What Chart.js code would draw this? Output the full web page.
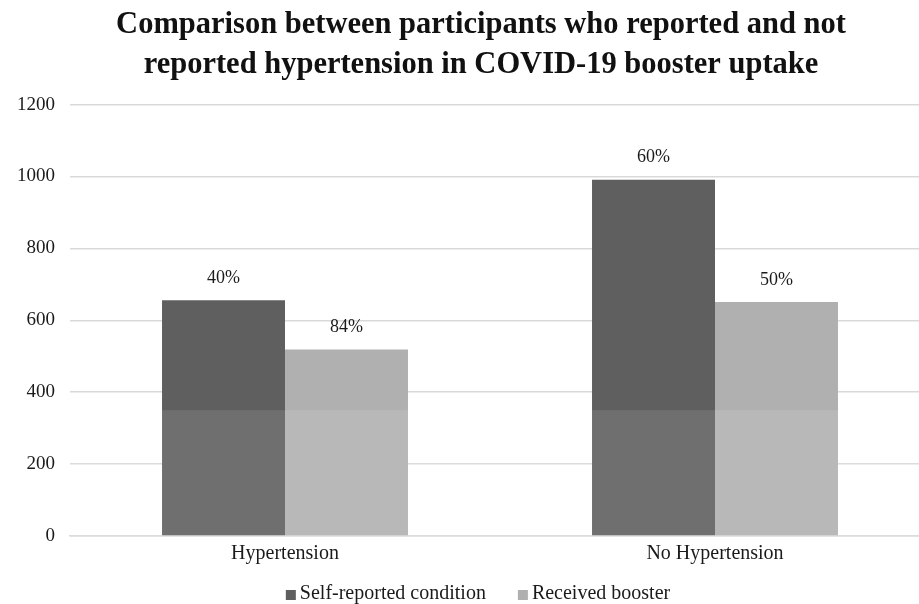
<!DOCTYPE html>
<html>
<head>
<meta charset="utf-8">
<script src="https://cdn.jsdelivr.net/npm/chart.js@4.4.1/dist/chart.umd.min.js"></script>
<style>
  html, body { margin: 0; padding: 0; background: #fff; overflow: hidden; }
  .chart-container { width: 930px; height: 604px; }
</style>
</head>
<body>
<div class="chart-container"><canvas id="myChart" width="930" height="604"></canvas></div>
<script>
"use strict";

// DATA
const categories = ["Hypertension", "No Hypertension"];
const selfReported = [656, 991];
const receivedBooster = [519, 651];
const selfReportedPct = ["40%", "60%"];
const receivedBoosterPct = ["84%", "50%"];
const yMin = 0;
const yMax = 1200;
const yStep = 200;
const titleLines = [
  "Comparison between participants who reported and not",
  "reported hypertension in COVID-19 booster uptake",
];

const FONT = "'Liberation Serif', 'DejaVu Serif', serif";
const TEXT = "#1a1a1a";
const ctx = document.getElementById("myChart");

// two-line bold heading, nudged right of the canvas centre
const heading = {
  id: "heading",
  afterDraw(chart) {
    const c = chart.ctx;
    c.save();
    c.font = `bold 30.5px ${FONT}`;
    c.fillStyle = "#111";
    c.textAlign = "center";
    c.textBaseline = "middle";
    titleLines.forEach((line, i) => {
      c.fillText(line, chart.width / 2 + 16, 25 + i * 40);
    });
    c.restore();
  },
};

// percentage text above each bar
const barLabels = {
  id: "barLabels",
  afterDatasetsDraw(chart) {
    const c = chart.ctx;
    c.save();
    c.font = `18px ${FONT}`;
    c.fillStyle = TEXT;
    c.textAlign = "center";
    c.textBaseline = "middle";
    chart.data.datasets.forEach((ds, i) => {
      chart.getDatasetMeta(i).data.forEach((bar, j) => {
        c.fillText(ds.pctLabels[j], bar.x, bar.y - 22);
      });
    });
    c.restore();
  },
};

// pale watermark band over the lower part of the plot
const lowerBand = {
  id: "lowerBand",
  afterDatasetsDraw(chart) {
    const { ctx: c, chartArea, scales } = chart;
    const top = scales.y.getPixelForValue(350);
    c.save();
    c.fillStyle = "rgba(255,255,255,0.1)";
    c.fillRect(chartArea.left, top, chartArea.right - chartArea.left, chartArea.bottom - top);
    c.restore();
  },
};

// legend row under the axis labels, small square swatches
const bottomLegend = {
  id: "bottomLegend",
  afterDraw(chart) {
    const c = chart.ctx;
    const sets = chart.data.datasets;
    const box = 10, gapBox = 4, gapItem = 32;
    c.save();
    c.font = `20px ${FONT}`;
    c.textBaseline = "middle";
    c.textAlign = "left";
    const widths = sets.map((ds) => c.measureText(ds.label).width);
    const total = widths.reduce((a, w) => a + box + gapBox + w, 0) + gapItem * (sets.length - 1);
    let x = chart.width / 2 + 13 - total / 2;
    const y = chart.height - 10;
    sets.forEach((ds, i) => {
      c.fillStyle = ds.backgroundColor;
      c.fillRect(x, y - 4, box, box);
      x += box + gapBox;
      c.fillStyle = TEXT;
      c.fillText(ds.label, x, y);
      x += widths[i] + gapItem;
    });
    c.restore();
  },
};

const chart = new Chart(ctx, {
  type: "bar",
  data: {
    labels: categories,
    datasets: [
      {
        label: "Self-reported condition",
        data: selfReported,
        pctLabels: selfReportedPct,
        backgroundColor: "#5f5f5f",
        borderWidth: 0,
      },
      {
        label: "Received booster",
        data: receivedBooster,
        pctLabels: receivedBoosterPct,
        backgroundColor: "#b0b0b0",
        borderWidth: 0,
      },
    ],
  },
  options: {
    responsive: false,
    animation: false,
    categoryPercentage: 0.572,
    barPercentage: 1,
    layout: { padding: { left: 2, right: 0, top: 104.6, bottom: 32 } },
    plugins: {
      title: { display: false },
      legend: { display: false },
      tooltip: { enabled: false },
    },
    scales: {
      x: {
        grid: { display: false, drawTicks: false },
        border: { color: "#d9d9d9", width: 1.5 },
        ticks: { color: TEXT, font: { family: FONT, size: 20 }, padding: 6 },
      },
      y: {
        min: yMin,
        max: yMax,
        ticks: {
          stepSize: yStep,
          color: TEXT,
          font: { family: FONT, size: 19 },
          padding: 15,
          callback: (v) => String(v),
        },
        grid: { color: "#d9d9d9", lineWidth: 1.5, drawTicks: false },
        border: { display: false },
      },
    },
  },
  plugins: [barLabels, lowerBand, bottomLegend, heading],
});
</script>
</body>
</html>
